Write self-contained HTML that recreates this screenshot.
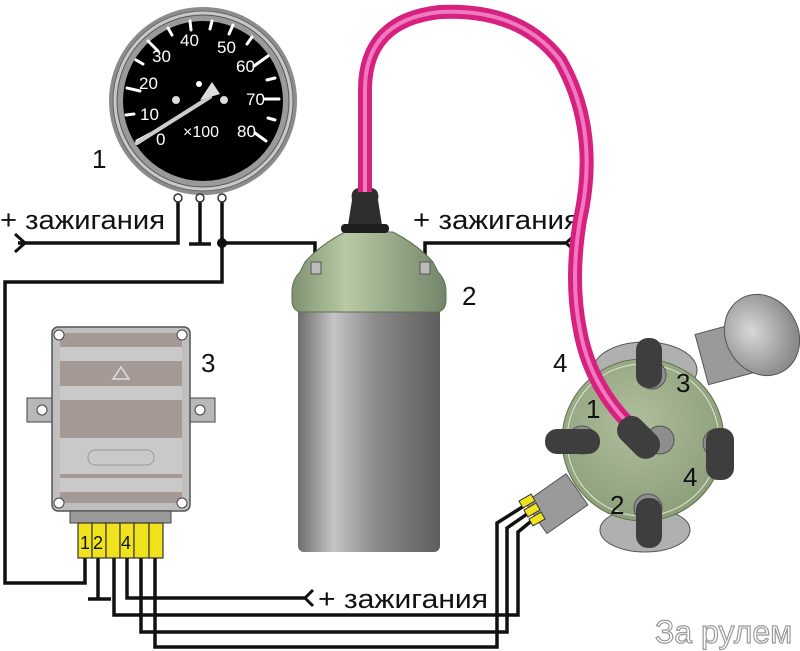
<!DOCTYPE html>
<html><head><meta charset="utf-8"><style>
html,body{margin:0;padding:0;background:#fff;}
svg{display:block;font-family:"Liberation Sans",sans-serif;}
</style></head><body>
<svg width="800" height="651" viewBox="0 0 800 651" xmlns="http://www.w3.org/2000/svg">
<defs>
<linearGradient id="cyl" x1="0" x2="1" y1="0" y2="0">
<stop offset="0" stop-color="#6e6e6e"/><stop offset="0.25" stop-color="#c4c4c4"/><stop offset="0.55" stop-color="#8a8a8a"/><stop offset="1" stop-color="#5e5e5e"/></linearGradient>
<linearGradient id="grn" x1="0" x2="1"><stop offset="0" stop-color="#7f9270"/><stop offset="0.35" stop-color="#b8c9a5"/><stop offset="1" stop-color="#74866a"/></linearGradient>
<radialGradient id="dist" cx="0.45" cy="0.4" r="0.6"><stop offset="0" stop-color="#b0bf9c"/><stop offset="1" stop-color="#8c9e7a"/></radialGradient>
<radialGradient id="vac" cx="0.4" cy="0.4" r="0.6"><stop offset="0" stop-color="#d8d8d8"/><stop offset="1" stop-color="#8a8a8a"/></radialGradient>
</defs>

<g fill="none" stroke="#111" stroke-width="3.5">
<polyline points="178,198 178,243 18,243"/>
<polyline points="200,198 200,243"/>
<line x1="189" y1="244" x2="211" y2="244"/>
<polyline points="222,198 222,243 315,243 315,270"/>
<polyline points="222,243 222,282 5,282 5,583 85,583 85,553"/>
<polyline points="425,270 425,243 568,243"/>
<polyline points="98,553 98,598"/>
<line x1="88" y1="599" x2="111" y2="599"/>
<polyline points="127,553 127,598 306,598"/>
<polyline points="114,553 114,615 518,615 518,532 535,518"/>
<polyline points="141,553 141,632 507,632 507,528 530,512"/>
<polyline points="155,553 155,647 497,647 497,523 524,506"/>
</g>
<g fill="none" stroke="#111" stroke-width="3">
<polyline points="15,234 25,243 15,252"/>
<polyline points="576,234 566,243 576,252"/>
<polyline points="313,590 305,598 313,606"/>
</g>
<circle cx="222" cy="243" r="5" fill="#111"/>

<g fill="#111" font-size="27">
<text x="0" y="229" textLength="165" lengthAdjust="spacingAndGlyphs">+ зажигания</text>
<text x="413" y="229" textLength="167" lengthAdjust="spacingAndGlyphs">+ зажигания</text>
<text x="318" y="608" textLength="170" lengthAdjust="spacingAndGlyphs">+ зажигания</text>
<text x="92" y="168" font-size="26">1</text>
<text x="462" y="305" font-size="26">2</text>
<text x="201" y="372" font-size="26">3</text>
<text x="553" y="372" font-size="26">4</text>
</g>

<circle cx="203" cy="101" r="94" fill="#8c8c8c"/>
<circle cx="203" cy="101" r="90" fill="#c8c8c8" stroke="#666" stroke-width="1"/>
<circle cx="203" cy="101" r="86" fill="#9a9a9a" stroke="#555"/>
<circle cx="203" cy="101" r="80" fill="#000"/>
<g stroke="#fff" stroke-width="3" stroke-linecap="round">
<line x1="137" y1="141" x2="150" y2="134"/>
<line x1="126" y1="115" x2="134" y2="114"/>
<line x1="127" y1="88" x2="140" y2="91"/>
<line x1="136" y1="60" x2="143" y2="64"/>
<line x1="148" y1="41" x2="158" y2="51"/>
<line x1="168" y1="28" x2="172" y2="35"/>
<line x1="190" y1="21" x2="191" y2="30"/>
<line x1="212" y1="21" x2="210" y2="29"/>
<line x1="233" y1="25" x2="229" y2="34"/>
<line x1="252" y1="37" x2="247" y2="44"/>
<line x1="268" y1="56" x2="254" y2="66"/>
<line x1="275" y1="78" x2="267" y2="80"/>
<line x1="279" y1="99" x2="265" y2="99"/>
<line x1="275" y1="120" x2="268" y2="118"/>
<line x1="266" y1="141" x2="255" y2="133"/>
</g>
<g fill="#fff" font-size="17">
<text x="156" y="145">0</text><text x="140" y="120">10</text><text x="139" y="89">20</text>
<text x="152" y="62">30</text><text x="180" y="46">40</text><text x="217" y="53">50</text>
<text x="236" y="72">60</text><text x="246" y="105">70</text><text x="237" y="137">80</text>
<text x="183" y="137" font-size="16">×100</text>
</g>
<line x1="137" y1="143" x2="210" y2="97" stroke="#ccc" stroke-width="4" stroke-linecap="round"/>
<path d="M200,100 L212,82 L220,94 Z" fill="#ddd"/>
<circle cx="199" cy="84" r="3" fill="#fff"/>
<circle cx="176" cy="100" r="4" fill="#ddd"/><circle cx="224" cy="100" r="4" fill="#ddd"/>
<g fill="#fff" stroke="#333" stroke-width="1.5">
<circle cx="178" cy="198" r="4"/><circle cx="200" cy="198" r="4"/><circle cx="222" cy="198" r="4"/>
</g>

<rect x="298" y="300" width="142" height="252" rx="6" fill="url(#cyl)"/>
<path d="M345,232 Q320,245 305,262 L300,272 Q292,280 292,292 L292,300 Q292,310 300,312 L438,312 Q446,310 446,300 L446,292 Q446,280 438,272 L433,262 Q418,245 393,232 Z" fill="url(#grn)" stroke="#5f6f55"/>
<rect x="311" y="262" width="10" height="12" fill="#bbb" stroke="#555"/>
<rect x="420" y="262" width="10" height="12" fill="#bbb" stroke="#555"/>
<path d="M352,200 Q350,190 358,188 L372,188 Q380,190 378,200 L382,225 L348,225 Z" fill="#2e2e2e"/>
<rect x="341" y="224" width="48" height="9" rx="4" fill="#1e1e1e"/>

<g transform="rotate(-15 760 345)"><rect x="700" y="318" width="50" height="52" fill="#9a9a9a" stroke="#555"/></g>
<ellipse cx="762" cy="335" rx="36" ry="42" fill="url(#vac)" stroke="#555" transform="rotate(-30 762 335)"/>
<ellipse cx="645" cy="370" rx="52" ry="28" fill="#b0b0b0" stroke="#555"/>
<ellipse cx="645" cy="530" rx="45" ry="22" fill="#b0b0b0" stroke="#555"/>
<g transform="rotate(-35 560 500)"><rect x="530" y="482" width="50" height="38" fill="#9a9a9a" stroke="#555"/></g>
<g fill="#f0e31e" stroke="#333" stroke-width="1"><rect x="520" y="497" width="14" height="8" transform="rotate(-30 527 501)"/><rect x="525" y="506" width="14" height="8" transform="rotate(-30 532 510)"/><rect x="530" y="515" width="14" height="8" transform="rotate(-30 537 519)"/></g>
<circle cx="643" cy="440" r="81" fill="url(#dist)" stroke="#607050"/>
<circle cx="643" cy="440" r="76" fill="none" stroke="#dfe6d4" stroke-width="1"/>
<g fill="#8e8e8e" stroke="#555">
<circle cx="582" cy="440" r="14"/><circle cx="660" cy="440" r="14"/><circle cx="652" cy="375" r="14"/><circle cx="717" cy="443" r="14"/><circle cx="648" cy="508" r="14"/>
</g>
<g fill="#3e3e3e">
<rect x="545" y="429" width="55" height="25" rx="12"/>
<rect x="636" y="338" width="26" height="50" rx="12"/>
<rect x="706" y="428" width="28" height="52" rx="12"/>
<rect x="636" y="498" width="26" height="50" rx="12"/>
</g>

<path d="M365,192 L365,90 Q365,20 440,12 Q520,8 560,60 Q600,130 580,220 Q570,280 580,330 Q590,385 630,425" fill="none" stroke="#d6217f" stroke-width="14"/>
<path d="M365,192 L365,90 Q365,20 440,12 Q520,8 560,60 Q600,130 580,220 Q570,280 580,330 Q590,385 630,425" fill="none" stroke="#f07ac0" stroke-width="4"/>
<rect x="624" y="412" width="28" height="48" rx="13" fill="#3e3e3e" transform="rotate(-45 640 436)"/>

<g fill="#111" font-size="26">
<text x="586" y="418">1</text><text x="676" y="392">3</text><text x="683" y="486">4</text><text x="610" y="514">2</text>
</g>

<rect x="27" y="398" width="28" height="24" fill="#b8b8b8" stroke="#444"/>
<rect x="187" y="398" width="28" height="24" fill="#b8b8b8" stroke="#444"/>
<circle cx="42" cy="410" r="5" fill="#fff" stroke="#444"/><circle cx="200" cy="410" r="5" fill="#fff" stroke="#444"/>
<rect x="52" y="327" width="138" height="184" rx="6" fill="#bfbfbf" stroke="#555" stroke-width="1.5"/>
<rect x="60" y="333" width="122" height="170" fill="#a59996"/>
<rect x="60" y="347" width="122" height="14" fill="#c9c9c9"/>
<rect x="60" y="386" width="122" height="14" fill="#c9c9c9"/>
<rect x="60" y="438" width="122" height="36" fill="#c9c9c9"/>
<rect x="60" y="478" width="122" height="14" fill="#c9c9c9"/>
<rect x="88" y="450" width="66" height="15" rx="7" fill="none" stroke="#999"/>
<path d="M121,367 L129,379 L113,379 Z" fill="none" stroke="#ddd" stroke-width="1.5"/>
<g fill="#fff" stroke="#444"><circle cx="59" cy="335" r="5"/><circle cx="182" cy="335" r="5"/><circle cx="59" cy="503" r="5"/><circle cx="182" cy="503" r="5"/></g>
<rect x="70" y="511" width="101" height="12" fill="#9a9a9a" stroke="#444"/>
<g fill="#f0e31e" stroke="#333" stroke-width="1.2">
<rect x="78" y="523" width="14" height="35"/><rect x="92" y="523" width="14" height="35"/><rect x="106" y="523" width="14" height="35"/><rect x="120" y="523" width="14" height="35"/><rect x="134" y="523" width="15" height="35"/><rect x="149" y="523" width="14" height="35"/>
</g>
<g fill="#111" font-size="18"><text x="80" y="549">1</text><text x="93" y="549">2</text><text x="121" y="549">4</text></g>

<text x="655" y="643" font-size="32" fill="#fff" stroke="#999" stroke-width="1.2">За рулем</text>
</svg>
</body></html>
